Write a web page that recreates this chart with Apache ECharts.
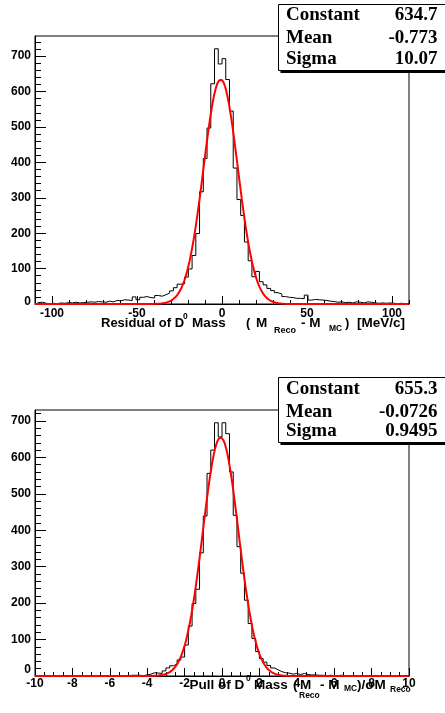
<!DOCTYPE html>
<html><head><meta charset="utf-8">
<script src="https://cdn.jsdelivr.net/npm/echarts@6/dist/echarts.min.js"></script>
<style>html,body{margin:0;padding:0;background:#fff}#c{width:445px;height:713px}</style>
</head><body><div id="c"></div><script>
// ---- data: residual histogram (MeV/c), 100 bins over [-110,110]
const topRange = [-110, 110];
const topCounts = [
  4,5,2,1,2,1,3,2,4,3,
  5,3,4,5,6,5,7,6,5,8,
  6,10,9,12,11,10,20,12,19,21,
  18,17,24,22,26,31,37,46,56,57,
  76,99,137,199,317,411,497,622,721,678,
  693,634,545,384,295,250,175,122,77,92,
  63,54,44,38,32,28,21,19,18,16,
  16,15,25,11,13,12,11,10,8,7,
  5,6,4,5,3,6,5,3,6,5,
  3,2,3,2,3,2,1,2,1,2
];
const topFit = {constant: 634.7, mean: -0.773, sigma: 10.07};
const topFitLabels = ['634.7', '-0.773', '10.07'];
const topXTicks = [-100, -50, 0, 50, 100];
const topYTicks = [0, 100, 200, 300, 400, 500, 600, 700];
const topYMax = 757;

// ---- data: pull histogram, 100 bins over [-10,10]
const botRange = [-10, 10];
const botCounts = [
  0,0,0,0,0,0,0,0,0,0,
  0,0,0,0,0,1,0,0,1,0,
  0,1,0,1,1,2,2,2,1,3,
  5,9,8,7,14,22,28,33,44,52,
  85,137,199,238,338,439,556,620,695,656,
  695,665,560,441,355,282,208,144,103,67,
  48,38,29,22,17,12,9,8,5,7,
  4,7,4,3,3,2,2,1,2,1,
  1,2,1,0,1,0,1,0,1,0,
  0,1,0,0,0,0,0,0,0,0
];
const botFit = {constant: 655.3, mean: -0.0726, sigma: 0.9495};
const botFitLabels = ['655.3', '-0.0726', '0.9495'];
const botXTicks = [-10, -8, -6, -4, -2, 0, 2, 4, 6, 8, 10];
const botYTicks = [0, 100, 200, 300, 400, 500, 600, 700];
const botYMax = 730;
const statNames = ['Constant', 'Mean', 'Sigma'];

// ---- helpers
function stepPoints(counts, range) {
  const w = (range[1] - range[0]) / counts.length;
  const pts = [[range[0], 0]];
  counts.forEach((c, i) => { pts.push([range[0] + i * w, c], [range[0] + (i + 1) * w, c]); });
  pts.push([range[1], 0]);
  return pts;
}
function gaussPoints(fit, range) {
  const pts = [], n = 800;
  for (let i = 0; i <= n; i++) {
    const x = range[0] + (range[1] - range[0]) * i / n;
    const z = (x - fit.mean) / fit.sigma;
    pts.push([x, fit.constant * Math.exp(-0.5 * z * z)]);
  }
  return pts;
}
function seq(a, b, step) { const r = []; for (let v = a; v <= b + 1e-9; v += step) r.push(Math.round(v * 1000) / 1000); return r; }

const FONT = '"Liberation Sans", Arial, sans-serif';
const lab = {color: '#000', fontFamily: FONT, fontWeight: 'bold', fontSize: 12};

function xAxes(gi, range, major, minor, margin, majLen, minLen) {
  return [
    {type: 'value', gridIndex: gi, min: range[0], max: range[1], position: 'bottom',
     axisLine: {show: true, onZero: false, lineStyle: {color: '#000', width: 1}},
     axisTick: {show: true, inside: true, length: majLen, customValues: major, lineStyle: {color: '#000', width: 1}},
     axisLabel: Object.assign({show: true, customValues: major, margin: margin, formatter: v => String(v)}, lab),
     splitLine: {show: false}},
    {type: 'value', gridIndex: gi, min: range[0], max: range[1], position: 'bottom',
     axisLine: {show: false, onZero: false},
     axisTick: {show: true, inside: true, length: minLen, customValues: minor, lineStyle: {color: '#000', width: 1}},
     axisLabel: {show: false}, splitLine: {show: false}}
  ];
}
function yAxes(gi, max, major, minor, zeroShift) {
  return [
    {type: 'value', gridIndex: gi, min: 0, max: max, position: 'left',
     axisLine: {show: true, onZero: false, lineStyle: {color: '#000', width: 1}},
     axisTick: {show: true, inside: true, length: 11, customValues: major, lineStyle: {color: '#000', width: 1}},
     axisLabel: Object.assign({show: true, customValues: major, margin: 4,
       formatter: v => v === 0 ? '{z|0}' : String(v),
       rich: {z: Object.assign({padding: [0, 0, zeroShift * 2, 0]}, lab)}}, lab),
     splitLine: {show: false}},
    {type: 'value', gridIndex: gi, min: 0, max: max, position: 'left',
     axisLine: {show: false, onZero: false},
     axisTick: {show: true, inside: true, length: 6, customValues: minor, lineStyle: {color: '#000', width: 1}},
     axisLabel: {show: false}, splitLine: {show: false}}
  ];
}

// ---- axis titles: pieces placed at measured left edges, baseline offsets dy
function titleGraphics(pieces, baseY) {
  return pieces.map(p => ({type: 'text', x: p.x, y: baseY + p.dy - 0.3465 * p.s, z: 200,
      style: {text: p.t, font: 'bold ' + p.s + 'px ' + FONT, fill: '#000',
              align: 'left', verticalAlign: 'middle', textAlign: 'left', textVerticalAlign: 'middle'}}));
}
const SERIF = '"Liberation Serif", "Times New Roman", serif';
function statBox(x0, y0, y1, baselines, values) {
  const els = [
    {type: 'rect', z: 190, shape: {x: x0 + 2, y: y1, width: 200, height: 2.5}, style: {fill: '#000'}},
    {type: 'rect', z: 191, shape: {x: x0, y: y0, width: 200, height: y1 - y0}, style: {fill: '#fff', stroke: '#000', lineWidth: 1}}
  ];
  statNames.forEach((n, i) => {
    els.push({type: 'text', z: 200, x: x0 + 7.5, y: baselines[i] - 0.3375 * 19,
      style: {text: n, font: 'bold 19px ' + SERIF, fill: '#000', align: 'left', verticalAlign: 'middle', textAlign: 'left', textVerticalAlign: 'middle'}});
    els.push({type: 'text', z: 200, x: 437.5, y: baselines[i] - 0.3375 * 19,
      style: {text: values[i], font: 'bold 19px ' + SERIF, fill: '#000', align: 'right', verticalAlign: 'middle', textAlign: 'right', textVerticalAlign: 'middle'}});
  });
  return els;
}

const topTitle = [
  {t: 'Residual of D', s: 13, dy: 0, x: 101},
  {t: '0', s: 8.5, dy: -8, x: 183},
  {t: 'Mass', s: 13.5, dy: 0, x: 192},
  {t: '(', s: 13, dy: 0, x: 246},
  {t: 'M', s: 13.5, dy: 0, x: 256},
  {t: 'Reco', s: 9, dy: 6, x: 274},
  {t: '- M', s: 13.5, dy: 0, x: 301},
  {t: 'MC', s: 8.5, dy: 4, x: 329},
  {t: ')', s: 13, dy: 0, x: 345},
  {t: '[MeV/c]', s: 13.5, dy: 0, x: 357}
];
const botTitle = [
  {t: 'Pull of D', s: 13.5, dy: 0, x: 189.5},
  {t: '0', s: 8.5, dy: -8, x: 246},
  {t: 'Mass', s: 13.5, dy: 0, x: 254},
  {t: '(', s: 13.5, dy: 0, x: 293},
  {t: 'M', s: 13.5, dy: 0, x: 300},
  {t: 'Reco', s: 8.5, dy: 9, x: 299},
  {t: '- M', s: 13.5, dy: 0, x: 320},
  {t: 'MC', s: 8.5, dy: 2, x: 344},
  {t: ')/\u03c3M', s: 13.5, dy: 0, x: 357},
  {t: 'Reco', s: 8.5, dy: 3, x: 390}
];

const chart = echarts.init(document.getElementById('c'), null, {renderer: 'canvas'});
const option = {
  animation: false,
  backgroundColor: '#fff',
  grid: [
    {left: 35, top: 36, width: 374, height: 268, show: true, borderColor: '#000', borderWidth: 1, backgroundColor: 'transparent'},
    {left: 35, top: 410, width: 374, height: 266, show: true, borderColor: '#000', borderWidth: 1, backgroundColor: 'transparent'}
  ],
  xAxis: [
    ...xAxes(0, topRange, topXTicks, seq(-110, 110, 10), 4, 8, 4),
    ...xAxes(1, botRange, botXTicks, seq(-10, 10, 0.5), 2, 8, 4)
  ],
  yAxis: [
    ...yAxes(0, topYMax, topYTicks, seq(0, 740, 20), 2),
    ...yAxes(1, botYMax, botYTicks, seq(0, 720, 20), 6)
  ],
  series: [
    {type: 'line', xAxisIndex: 0, yAxisIndex: 0, data: stepPoints(topCounts, topRange), showSymbol: false, symbol: 'none',
     lineStyle: {color: '#000', width: 1}, z: 2},
    {type: 'line', xAxisIndex: 0, yAxisIndex: 0, data: gaussPoints(topFit, topRange), showSymbol: false, symbol: 'none',
     lineStyle: {color: '#ff0000', width: 2}, z: 3},
    {type: 'line', xAxisIndex: 2, yAxisIndex: 2, data: stepPoints(botCounts, botRange), showSymbol: false, symbol: 'none',
     lineStyle: {color: '#000', width: 1}, z: 2},
    {type: 'line', xAxisIndex: 2, yAxisIndex: 2, data: gaussPoints(botFit, botRange), showSymbol: false, symbol: 'none',
     lineStyle: {color: '#ff0000', width: 2}, z: 3}
  ],
  graphic: [
    ...titleGraphics(topTitle, 327.7),
    ...titleGraphics(botTitle, 690),
    ...statBox(278.5, 4.5, 70.5, [21.7, 44.3, 65.3], topFitLabels),
    ...statBox(278.5, 377.5, 442.5, [396, 418.3, 438], botFitLabels)
  ]
};
chart.setOption(option);
</script></body></html>
